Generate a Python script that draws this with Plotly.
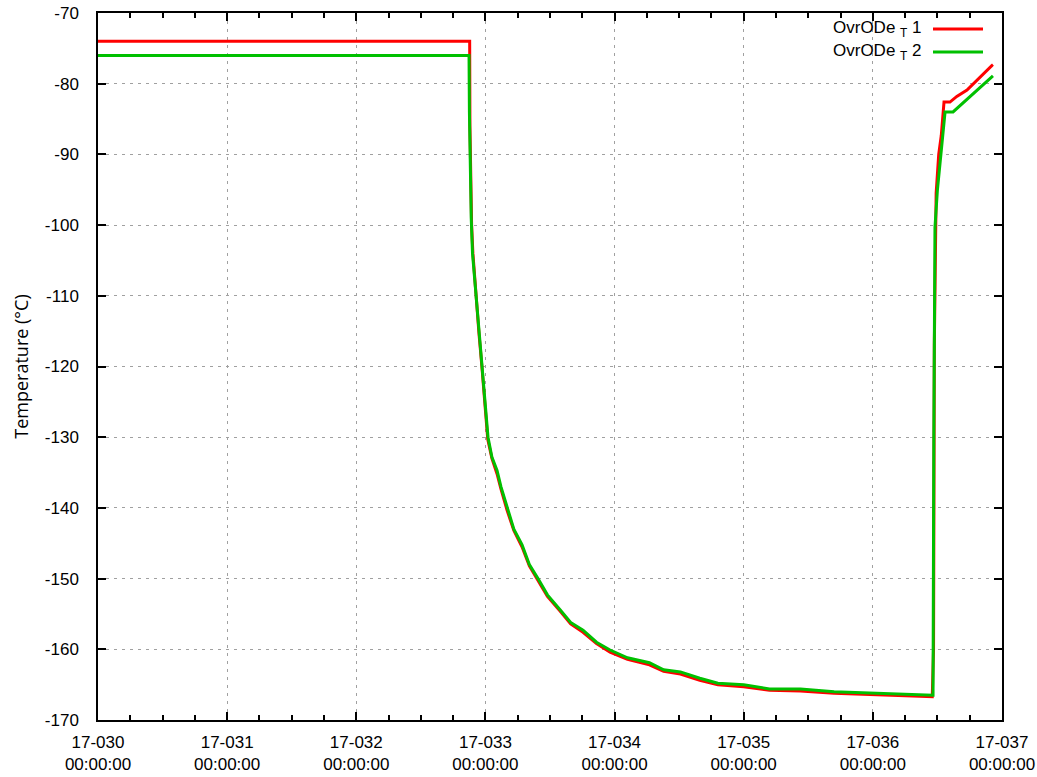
import plotly.graph_objects as go

# ---- data (x in days since 17-030 00:00:00) ----
t1_days = [0.0, 2.878, 2.880, 2.885, 2.893, 2.903, 2.927, 2.95,
           2.974, 3.018, 3.05, 3.090, 3.12, 3.167, 3.22, 3.283, 3.34, 3.407, 3.48, 3.578, 3.66,
           3.756, 3.86, 3.965, 4.1, 4.27, 4.38, 4.51, 4.66, 4.8, 5.0, 5.2, 5.44, 5.7, 6.0, 6.2,
           6.46, 6.470, 6.476, 6.49, 6.51, 6.53, 6.551, 6.597,
           6.65, 6.729, 6.83, 6.923, 6.93]
t1_temp = [-74.0, -74.0, -86.0, -95.0, -100.0, -104.0, -110.3, -115.3,
           -120.3, -130.3, -133.0, -135.2, -137.3, -140.3, -143.2, -145.5, -148.2, -150.3, -152.5, -154.6, -156.4,
           -157.6, -159.2, -160.4, -161.4, -162.2, -163.1, -163.5, -164.4, -165.0, -165.3, -165.8, -165.9, -166.2, -166.4, -166.6,
           -166.7, -160.0, -117.0, -95.5, -90.0, -87.3, -82.6, -82.6,
           -81.8, -80.9, -79.0, -77.4, -77.3]

t2_days = [0.0, 2.873, 2.876, 2.882, 2.890, 2.900, 2.927, 2.95,
           2.974, 3.020, 3.05, 3.090, 3.12, 3.167, 3.22, 3.283, 3.34, 3.407, 3.48, 3.578, 3.66,
           3.756, 3.86, 3.965, 4.1, 4.27, 4.38, 4.51, 4.66, 4.8, 5.0, 5.2, 5.44, 5.7, 6.0, 6.2,
           6.466, 6.472, 6.481, 6.50, 6.512, 6.536, 6.559, 6.621,
           6.68, 6.729, 6.83, 6.923, 6.93]
t2_temp = [-76.0, -76.0, -84.0, -92.0, -99.0, -104.0, -110.0, -115.0,
           -120.0, -130.0, -132.8, -134.7, -137.0, -140.0, -143.0, -145.2, -148.0, -150.0, -152.3, -154.4, -156.2,
           -157.3, -159.0, -160.1, -161.2, -161.9, -162.9, -163.2, -164.1, -164.8, -165.0, -165.6, -165.6, -166.0, -166.2, -166.4,
           -166.5, -130.0, -100.3, -95.0, -92.6, -88.0, -84.0, -84.0,
           -83.0, -82.3, -80.6, -79.0, -78.9]

x_tickvals = [0, 1, 2, 3, 4, 5, 6, 7]
x_ticktext = ["17-030<br>00:00:00", "17-031<br>00:00:00", "17-032<br>00:00:00",
              "17-033<br>00:00:00", "17-034<br>00:00:00", "17-035<br>00:00:00",
              "17-036<br>00:00:00", "17-037<br>00:00:00"]
y_tickvals = [-170, -160, -150, -140, -130, -120, -110, -100, -90, -80, -70]
y_ticktext = ["-170", "-160", "-150", "-140", "-130", "-120", "-110", "-100", "-90", "-80", "-70"]

series_names = ["OvrODe <sub>T</sub> 1", "OvrODe <sub>T</sub> 2"]
series_colors = ["#ff0000", "#00c000"]

fig = go.Figure()
fig.add_trace(go.Scatter(x=t1_days, y=t1_temp, mode="lines", name=series_names[0],
                         line=dict(color=series_colors[0], width=3)))
fig.add_trace(go.Scatter(x=t2_days, y=t2_temp, mode="lines", name=series_names[1],
                         line=dict(color=series_colors[1], width=3)))

font_fam = "Liberation Sans, Arial, sans-serif"

fig.update_layout(
    width=1037, height=777,
    margin=dict(l=98, r=35, t=13, b=57, pad=0),
    paper_bgcolor="white", plot_bgcolor="white",
    showlegend=False,
    font=dict(family=font_fam, size=17, color="black"),
)

fig.update_xaxes(
    range=[0, 7], tickvals=x_tickvals, ticktext=x_ticktext,
    automargin=False,
    showgrid=True, gridcolor="#a0a0a0", gridwidth=1, griddash="3px,5px",
    showline=True, linecolor="black", linewidth=1.5, mirror="allticks",
    ticks="inside", ticklen=8, tickcolor="black", tickwidth=1.5,
    tickfont=dict(family=font_fam, size=17, color="black"),
    ticklabelstandoff=6,
    zeroline=False,
    minor=dict(dtick=0.25, ticks="inside", ticklen=5, tickcolor="black", tickwidth=1.5, showgrid=False),
)
fig.update_yaxes(
    range=[-170, -70], tickvals=y_tickvals, ticktext=y_ticktext,
    automargin=False,
    showgrid=True, gridcolor="#a0a0a0", gridwidth=1, griddash="3px,5px",
    showline=True, linecolor="black", linewidth=1.5, mirror="allticks",
    ticks="inside", ticklen=8, tickcolor="black", tickwidth=1.5,
    tickfont=dict(family=font_fam, size=17, color="black"),
    ticklabelstandoff=14,
    zeroline=False,
    title=dict(text="Temperature (°C)", font=dict(family="Open Sans, Noto Sans, sans-serif", size=18),
               standoff=12),
)

# gnuplot-style key: right-aligned text followed by line sample
for i, (nm, col) in enumerate(zip(series_names, series_colors)):
    ypix = 29 + 23 * i
    yp = 1 - (ypix - 13) / (777 - 13 - 57)
    fig.add_annotation(xref="paper", yref="paper", x=(924 - 98) / (1037 - 98 - 35), y=yp,
                       text=nm, showarrow=False, xanchor="right", yanchor="middle",
                       font=dict(family=font_fam, size=17, color="black"))
    fig.add_shape(type="line", xref="paper", yref="paper",
                  x0=(933 - 98) / (1037 - 98 - 35), x1=(983 - 98) / (1037 - 98 - 35),
                  y0=yp, y1=yp, line=dict(color=col, width=3))

fig.write_html("out.html", config={"displayModeBar": False},
               post_script="document.body.style.margin='0px';document.body.style.padding='0px';")
